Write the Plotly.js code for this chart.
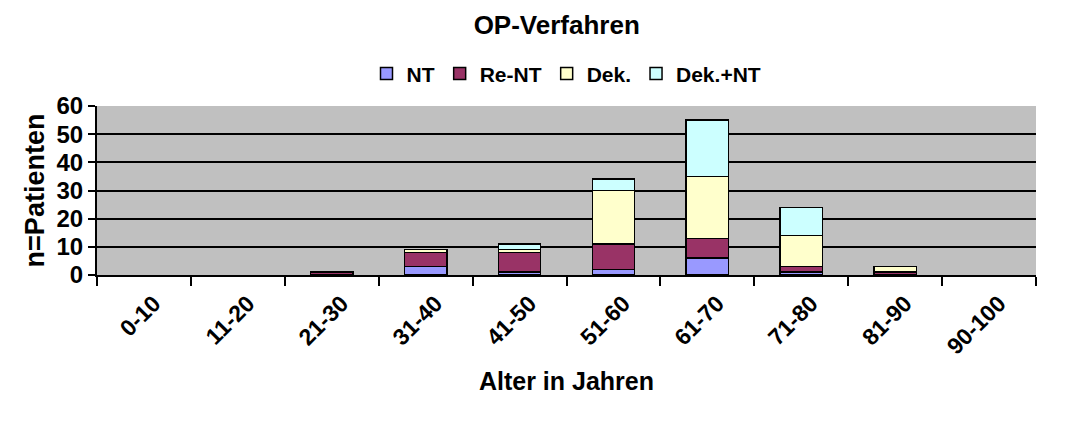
<!DOCTYPE html>
<html><head><meta charset="utf-8">
<script src="https://cdn.plot.ly/plotly-3.0.1.min.js"></script>
<style>body{margin:0;background:#fff}#c{width:1081px;height:423px}</style>
</head><body><div id="c"></div>
<script>
const categories = ["0-10","11-20","21-30","31-40","41-50","51-60","61-70","71-80","81-90","90-100"];
const seriesNames = ["NT","Re-NT","Dek.","Dek.+NT"];
const NT      = [0,0,0,3,1,2,6,1,0,0];
const ReNT    = [0,0,1,5,7,9,7,2,1,0];
const Dek     = [0,0,0,1,1,19,22,11,2,0];
const DekNT   = [0,0,0,0,2,4,20,10,0,0];
const colors = ["#9999FF","#993366","#FFFFCC","#CCFFFF"];
const values = [NT, ReNT, Dek, DekNT];

const F = "Liberation Sans, Arial, sans-serif";
const traces = values.map((v,i)=>({
  type:"bar", name:seriesNames[i], x:categories, y:v.map(d=>d===0?null:d),
  marker:{color:colors[i], line:{color:"#000", width:1.5}}
}));
const layout = {
  width:1081, height:423, barmode:"stack", bargap:0.55,
  paper_bgcolor:"#fff", plot_bgcolor:"#C0C0C0",
  margin:{l:97, r:45, t:106, b:148},
  font:{family:F, color:"#000"},
  title:{text:"<b>OP-Verfahren</b>", x:0.515, xanchor:"center", y:0.94, yanchor:"middle", font:{size:26, family:F}},
  showlegend:true,
  legend:{orientation:"h", x:0.5, xanchor:"center", y:1.19, yanchor:"middle", font:{size:21, family:F, weight:"bold"}, traceorder:"normal", itemwidth:30, tracegroupgap:0, itemclick:false},
  xaxis:{type:"category", tickangle:-45, tickfont:{size:23, family:F, weight:"bold"}, ticks:"outside", ticklen:9, tickcolor:"#000", tickwidth:2, tickson:"boundaries",
    ticklabelshift:10, ticklabelstandoff:4,
    showline:true, linecolor:"#000", linewidth:2, showgrid:false,
    title:{text:"<b>Alter in Jahren</b>", font:{size:25, family:F}, standoff:14}},
  yaxis:{range:[0,60], dtick:10, tickfont:{size:24, family:F, weight:"bold"}, ticks:"outside", ticklen:7, tickcolor:"#000", tickwidth:2,
    showline:true, linecolor:"#000", linewidth:2, showgrid:true, gridcolor:"#000", gridwidth:2, zeroline:false,
    title:{text:"<b>n=Patienten</b>", font:{size:27, family:F}, standoff:4}}
};
Plotly.newPlot("c", traces, layout, {displayModeBar:false, staticPlot:true});
</script></body></html>
